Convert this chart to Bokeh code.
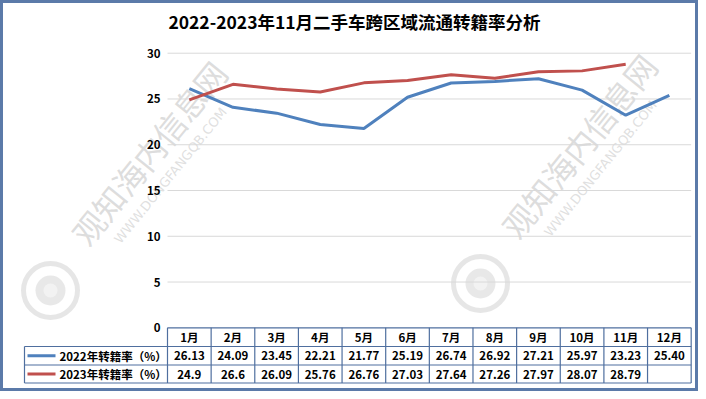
from bokeh.plotting import figure
from bokeh.core.properties import value
from bokeh.embed import file_html
from bokeh.resources import INLINE
import math

# ---------------- data ----------------
title_text = "2022-2023年11月二手车跨区域流通转籍率分析"
months = ["1月", "2月", "3月", "4月", "5月", "6月", "7月", "8月", "9月", "10月", "11月", "12月"]
rate_2022 = [26.13, 24.09, 23.45, 22.21, 21.77, 25.19, 26.74, 26.92, 27.21, 25.97, 23.23, 25.40]
rate_2023 = [24.9, 26.6, 26.09, 25.76, 26.76, 27.03, 27.64, 27.26, 27.97, 28.07, 28.79]
series_names = ["2022年转籍率（%）", "2023年转籍率（%）"]
series_colors = ["#4f81bd", "#c0504d"]
y_ticks = [0, 5, 10, 15, 20, 25, 30]
watermark = "观知海内信息网"
watermark_url = "WWW.DONGFANGQB.COM"

# ---------------- layout (picture pixels) ----------------
W, H = 698, 391
OFF = 0
PX_COL0 = 167.0     # left edge of first month column
PX_COLW = 43.64     # column width
PY_ZERO = 327.3     # y of value 0
PY_UNIT = 9.153     # pixels per unit

x_start = -0.5 - (PX_COL0 - OFF) / PX_COLW
x_end = x_start + W / PX_COLW
y_end = (PY_ZERO - OFF) / PY_UNIT
y_start = y_end - H / PY_UNIT


def dx(px):
    return x_start + (px - OFF) / PX_COLW


def dy(py):
    return y_end - (py - OFF) / PY_UNIT


FONT = "Noto Sans CJK SC"
n = len(months)

p = figure(width=W, height=H, x_range=(x_start, x_end), y_range=(y_start, y_end),
           x_axis_type=None, y_axis_type=None, min_border=0,
           toolbar_location=None, output_backend="svg",
           background_fill_color="white", border_fill_color="white")
p.outline_line_color = "#5b7aa9"
p.outline_line_width = 5

# ---------------- watermarks ----------------
ang = math.radians(51)
for cx, cy in [(148, 152), (578, 145)]:
    p.text(x=[dx(cx)], y=[dy(cy)], text=[watermark], angle=ang,
           text_font=value(FONT), text_font_size="32px", text_color="#d4d4d4",
           text_alpha=0.8, text_align="center", text_baseline="middle")
    p.text(x=[dx(cx + 22)], y=[dy(cy + 23)], text=[watermark_url], angle=ang,
           text_font=value("DejaVu Sans"), text_font_size="13px", text_color="#d8d8d8",
           text_alpha=0.8, text_align="center", text_baseline="middle")
    lx, ly = dx(cx - 98), dy(cy + 138)
    p.circle(x=[lx], y=[ly], radius=27, radius_units="screen", fill_color=None,
             line_color="#e0e0e0", line_width=5, line_alpha=0.8)
    p.circle(x=[lx], y=[ly], radius=15, radius_units="screen", fill_color="#e2e2e2",
             fill_alpha=0.8, line_color=None)
    p.circle(x=[lx], y=[ly], radius=7, radius_units="screen", fill_color="#f2f2f2",
             line_color=None)

# ---------------- gridlines ----------------
grid_y = [t for t in y_ticks if t > 0]
p.segment(x0=[-0.5] * len(grid_y), x1=[n - 0.5] * len(grid_y), y0=grid_y, y1=grid_y,
          line_color="#d9d9d9", line_width=1)

# y tick labels
p.text(x=[dx(160)] * len(y_ticks), y=y_ticks, text=[str(t) for t in y_ticks],
       text_font=value(FONT), text_font_size="11.5px", text_color="#000000",
       text_align="right", text_baseline="middle", text_font_style="bold")

# ---------------- lines ----------------
p.line(x=list(range(len(rate_2022))), y=rate_2022, line_color=series_colors[0], line_width=3)
p.line(x=list(range(len(rate_2023))), y=rate_2023, line_color=series_colors[1], line_width=3)

# ---------------- table ----------------
TC = "#4f6f9f"
r_top, r1, r2, r3 = 0.0, dy(346), dy(364.5), dy(382.5)
leg_left = dx(24)
p.segment(x0=[-0.5, leg_left, leg_left, leg_left], x1=[n - 0.5] * 4,
          y0=[r_top, r1, r2, r3], y1=[r_top, r1, r2, r3], line_color=TC, line_width=1.2)
vx = [-0.5 + k for k in range(n + 1)]
p.segment(x0=vx, x1=vx, y0=[r_top] * len(vx), y1=[r3] * len(vx), line_color=TC, line_width=1.2)
p.segment(x0=[leg_left], x1=[leg_left], y0=[r1], y1=[r3], line_color=TC, line_width=1.2)

hy = (r_top + r1) / 2
p.text(x=list(range(n)), y=[hy] * n, text=months, text_font=value(FONT),
       text_font_size="11.5px", text_font_style="bold", text_color="#000000",
       text_align="center", text_baseline="middle")
row_y = [(r1 + r2) / 2, (r2 + r3) / 2]
lab22 = ["%.2f" % v for v in rate_2022]
lab23 = ["%g" % v for v in rate_2023]
p.text(x=list(range(len(lab22))), y=[row_y[0]] * len(lab22), text=lab22,
       text_font=value(FONT), text_font_size="11.5px", text_font_style="bold",
       text_color="#000000", text_align="center", text_baseline="middle")
p.text(x=list(range(len(lab23))), y=[row_y[1]] * len(lab23), text=lab23,
       text_font=value(FONT), text_font_size="11.5px", text_font_style="bold",
       text_color="#000000", text_align="center", text_baseline="middle")
for i in range(2):
    p.segment(x0=[dx(27)], x1=[dx(55)], y0=[row_y[i]], y1=[row_y[i]],
              line_color=series_colors[i], line_width=3)
p.text(x=[dx(59)] * 2, y=row_y, text=series_names, text_font=value(FONT),
       text_font_size="11.5px", text_font_style="bold", text_color="#000000",
       text_align="left", text_baseline="middle")

# ---------------- title ----------------
p.text(x=[dx(354)], y=[dy(21)], text=[title_text], text_font=value(FONT),
       text_font_size="17.5px", text_font_style="bold", text_color="#000000",
       text_align="center", text_baseline="middle")

open("out.html", "w").write(file_html(p, INLINE))
